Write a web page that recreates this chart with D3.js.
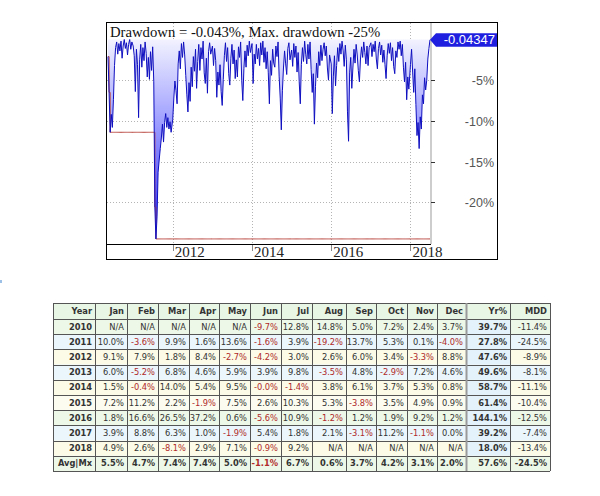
<!DOCTYPE html>
<html><head><meta charset="utf-8">
<script src="https://cdn.jsdelivr.net/npm/d3@7/dist/d3.min.js"></script>
<style>body{margin:0;background:#fff}svg{display:block}</style>
</head><body><svg id="c" width="600" height="496"></svg>
<script>
// ---- Drawdown series (%), one sample every 10 days, per calendar year ----
const seriesStarts = ["2010-05-14","2011-01-01","2012-01-01","2013-01-01","2014-01-01","2015-01-01","2016-01-01","2017-01-01","2018-01-01"];
const stepDays = 10;
const dd2010 = [-2.1,-6.5,-11.4,-9.2,-10.8,-7.4,-3.2,-1.0,-0.3,-1.8,-0.5,-1.4,-0.2,-2.3,-0.8,0,-1.1,-0.4,-1.9,-0.6,0,-1.2,-0.3];
const dd2011 = [-0.8,-2.0,-6.4,-1.2,-3.1,-9.6,-2.5,-0.6,-3.4,-1.0,-2.6,-0.3,-1.7,-4.6,-2.2,-4.9,-1.5,-3.8,-0.9,-5.2,-20.6,-24.5,-21.8,-16.3,-14.8,-13.4,-12.1,-10.4,-12.6,-10.2,-9.1,-10.8,-9.6,-11.0,-10.1,-11.4];
const dd2012 = [-9.8,-7.2,-5.1,-6.3,-7.9,-3.0,-1.4,-3.6,-0.5,-2.2,-0.3,-1.9,-4.4,-6.8,-8.9,-5.3,-7.6,-3.4,-5.8,-2.1,-3.9,-1.2,-6.0,-2.7,-0.6,-3.8,-1.0,-2.4,-0.2,-4.1,-5.4,-2.3,-6.6,-1.5,-0.4,-1.8];
const dd2013 = [-0.8,-3.2,-1.1,-2.6,-7.1,-4.0,-5.6,-3.1,-6.4,-8.1,-4.9,-2.0,-0.4,-2.7,-1.0,-4.2,-5.6,-2.3,-0.6,-3.0,-1.3,-4.8,-2.5,-4.6,-0.9,-2.2,-0.3,-5.0,-7.5,-3.6,-1.4,-3.4,-0.7,-2.0,-0.2,-1.6];
const dd2014 = [-0.5,-5.4,-1.8,-3.0,-0.6,-2.4,-1.1,-3.2,-0.4,-1.9,-0.2,-2.8,-1.0,-3.6,-1.5,-4.1,-7.9,-2.6,-4.4,-1.2,-2.9,-3.4,-0.8,-2.1,-0.3,-4.5,-7.2,-11.1,-6.3,-3.5,-1.4,-3.0,-4.3,-1.1,-0.4,-2.5];
const dd2015 = [-1.3,-3.3,-0.5,-2.2,-0.8,-4.0,-1.6,-5.2,-7.9,-3.1,-1.0,-2.7,-0.2,-1.8,-3.0,-0.6,-2.4,-0.3,-3.7,-6.5,-4.2,-10.4,-5.8,-2.9,-4.7,-1.5,-3.2,-0.7,-2.6,-1.2,-0.4,-2.0,-0.8,-3.5,-5.0,-1.9];
const dd2016 = [-3.0,-9.1,-4.5,-2.0,-5.7,-3.2,-1.0,-2.7,-0.5,-1.8,-0.2,-1.4,-3.3,-0.7,-2.5,-8.8,-12.5,-4.1,-2.2,-6.0,-3.5,-1.2,-2.9,-0.6,-1.9,-3.8,-5.2,-2.4,-0.9,-2.2,-0.3,-1.6,-3.0,-0.8,-3.2,-1.0];
const dd2017 = [-0.4,-2.1,-0.6,-1.5,-0.2,-2.4,-3.6,-1.1,-0.3,-1.9,-0.7,-2.8,-1.3,-3.1,-4.8,-2.0,-0.5,-1.7,-0.4,-2.6,-1.0,-3.3,-4.2,-1.4,-2.2,-0.3,-1.2,-0.2,-2.0,-0.6,-3.4,-5.2,-2.8,-7.4,-4.6,-6.1];
const dd2018 = [-3.1,-1.2,-4.0,-6.5,-3.6,-8.0,-11.8,-10.2,-13.4,-9.5,-11.0,-6.8,-7.9,-4.7,-6.2,-5.0,-2.4,-1.1,-0.043];
const ddSeries = [dd2010,dd2011,dd2012,dd2013,dd2014,dd2015,dd2016,dd2017,dd2018];

const yTicks = [-5,-10,-15,-20];
const xTickYears = [2012,2014,2016,2018];
const titleText = "Drawdown = -0.043%, Max. drawdown -25%";
const lastLabel = "-0.04347";

// ---- Monthly returns table ----
const tableHeader = ["Year","Jan","Feb","Mar","Apr","May","Jun","Jul","Aug","Sep","Oct","Nov","Dec","Yr%","MDD"];
const rowLabels = ["2010","2011","2012","2013","2014","2015","2016","2017","2018","Avg|Mx"];
const m2010 = [null,null,null,null,null,-9.7,12.8,14.8,5.0,7.2,2.4,3.7];
const m2011 = [10.0,-3.6,9.9,1.6,13.6,-1.6,3.9,-19.2,13.7,5.3,0.1,-4.0];
const m2012 = [9.1,7.9,1.8,8.4,-2.7,-4.2,3.0,2.6,6.0,3.4,-3.3,8.8];
const m2013 = [6.0,-5.2,6.8,4.6,5.9,3.9,9.8,-3.5,4.8,-2.9,7.2,4.6];
const m2014 = [1.5,-0.4,14.0,5.4,9.5,-0.0,-1.4,3.8,6.1,3.7,5.3,0.8];
const m2015 = [7.2,11.2,2.2,-1.9,7.5,2.6,10.3,5.3,-3.8,3.5,4.9,0.9];
const m2016 = [1.8,16.6,26.5,37.2,0.6,-5.6,10.9,-1.2,1.2,1.9,9.2,1.2];
const m2017 = [3.9,8.8,6.3,1.0,-1.9,5.4,1.8,2.1,-3.1,11.2,-1.1,0.0];
const m2018 = [4.9,2.6,-8.1,2.9,7.1,-0.9,9.2,null,null,null,null,null];
const mAvg  = [5.5,4.7,7.4,7.4,5.0,-1.1,6.7,0.6,3.7,4.2,3.1,2.0];
const monthly = [m2010,m2011,m2012,m2013,m2014,m2015,m2016,m2017,m2018,mAvg];
const yearPct = [39.7,27.8,47.6,49.6,58.7,61.4,144.1,39.2,18.0,57.6];
const mddPct  = [-11.4,-24.5,-8.9,-8.1,-11.1,-10.4,-12.5,-7.4,-13.4,-24.5];

// ================= drawing =================
const svg = d3.select("#c");
const parse = d3.utcParse("%Y-%m-%d");
const pts = [];
ddSeries.forEach((arr,k)=>{
  const s = parse(seriesStarts[k]);
  arr.forEach((v,i)=>pts.push({t:d3.utcDay.offset(s,i*stepDays), v}));
});
let runMin = 0;
const mdd = pts.map(p=>{runMin=Math.min(runMin,p.v);return {t:p.t,v:runMin};});

const x = d3.scaleUtc().domain(d3.extent(pts,d=>d.t)).range([108,430]);
const y = d3.scaleLinear().domain([0,-25]).range([39.5,243]);

const defs = svg.append("defs");
const grad = defs.append("linearGradient").attr("id","ddg").attr("gradientUnits","userSpaceOnUse")
  .attr("x1",0).attr("x2",0).attr("y1",y(0)).attr("y2",y(-25));
grad.append("stop").attr("offset",0).attr("stop-color","#f2f2ff");
grad.append("stop").attr("offset",1).attr("stop-color","#2323ff");
defs.append("clipPath").attr("id","pc").append("rect").attr("x",107).attr("y",23).attr("width",324).attr("height",221);

// frame
svg.append("rect").attr("x",106.5).attr("y",22.5).attr("width",391).attr("height",237)
  .attr("fill","#fff").attr("stroke","#000");

// grid
const g = svg.append("g");
g.selectAll(".hg").data(yTicks).join("line")
  .attr("x1",107).attr("x2",431).attr("y1",d=>Math.round(y(d))+0.5).attr("y2",d=>Math.round(y(d))+0.5)
  .attr("stroke","#b4b4b4").attr("stroke-dasharray","1,2");
const xt = xTickYears.map(yr=>new Date(Date.UTC(yr,0,1)));
g.selectAll(".vg").data(xt).join("line")
  .attr("x1",d=>Math.round(x(d))+0.5).attr("x2",d=>Math.round(x(d))+0.5).attr("y1",23).attr("y2",244)
  .attr("stroke","#b4b4b4").attr("stroke-dasharray","1,2");

// series
const plot = svg.append("g").attr("clip-path","url(#pc)");
plot.append("path").datum(pts)
  .attr("d",d3.area().x(d=>x(d.t)).y0(y(0)).y1(d=>y(d.v)))
  .attr("fill","url(#ddg)");
plot.append("path").datum(mdd)
  .attr("d",d3.line().x(d=>x(d.t)).y(d=>y(d.v)).curve(d3.curveStepAfter))
  .attr("fill","none").attr("stroke","#b8453e").attr("stroke-width",1);
plot.append("path").datum(pts)
  .attr("d",d3.line().x(d=>x(d.t)).y(d=>y(d.v)))
  .attr("fill","none").attr("stroke","#0f0fc0").attr("stroke-width",1);

// right axis separator & ticks
svg.append("line").attr("x1",431).attr("x2",431).attr("y1",23).attr("y2",244).attr("stroke","#bdbdbd").attr("stroke-width",1.5);
svg.selectAll(".yt").data(yTicks).join("line")
  .attr("x1",431).attr("x2",435).attr("y1",d=>Math.round(y(d))+0.5).attr("y2",d=>Math.round(y(d))+0.5).attr("stroke","#333");
svg.selectAll(".yl").data(yTicks).join("text")
  .attr("x",494).attr("y",d=>y(d)+5).attr("text-anchor","end")
  .attr("font-family","Liberation Sans, Arial, sans-serif").attr("font-size",12.5).attr("fill","#555")
  .text(d=>d+"%");

// x axis
svg.append("line").attr("x1",106).attr("x2",431).attr("y1",244.5).attr("y2",244.5).attr("stroke","#000");
svg.selectAll(".xtk").data(xt).join("line")
  .attr("x1",d=>Math.round(x(d))+0.5).attr("x2",d=>Math.round(x(d))+0.5).attr("y1",245).attr("y2",251).attr("stroke","#888");
svg.selectAll(".xl").data(xt).join("text")
  .attr("x",d=>x(d)+2).attr("y",256.5)
  .attr("font-family","Liberation Serif, Times New Roman, serif").attr("font-size",15).attr("fill","#222")
  .text(d=>d.getUTCFullYear());

// title
svg.append("text").attr("x",110).attr("y",36.5)
  .attr("font-family","Liberation Serif, Times New Roman, serif").attr("font-size",14.7).attr("fill","#111")
  .text(titleText);

// last value marker
const ly = y(pts[pts.length-1].v);
svg.append("path").attr("d",`M430,${ly} L436,${ly-6.5} L497,${ly-6.5} L497,${ly+7} L436,${ly+7} Z`).attr("fill","#1f1fe0");
svg.append("text").attr("x",495).attr("y",ly+4.5).attr("text-anchor","end")
  .attr("font-family","Liberation Sans, Arial, sans-serif").attr("font-size",13).attr("fill","#fff").text(lastLabel);

// small stray mark at left
svg.append("rect").attr("x",0).attr("y",280).attr("width",2).attr("height",3).attr("fill","#9cc0e6");

// ---- table ----
const colW = [42,32,31,31,30,31,31,31,34,30,31,30,29,44,40];
const tblX = 53, tblY = 303, headH = 16, rowH = 15.2;
const colX = [tblX]; colW.forEach(w=>colX.push(colX[colX.length-1]+w));
const rowFills = ["#eef8e8","#eaf6fb","#fbfbe7","#eaf6fb","#fbfbe7","#fcfcf0","#eef8e8","#eaf6fb","#fbfbe7","#eef8e8"];
const headFill = "#e8f6e6", yrFill = "#e3f2fb";
const fmt = v => v===null ? "N/A" : ((v<0||Object.is(v,-0))?"-":"")+Math.abs(v).toFixed(1)+"%";
const tg = svg.append("g").attr("font-family","Verdana, DejaVu Sans, sans-serif").attr("font-size",8.3);

// header
tableHeader.forEach((h,c)=>{
  tg.append("rect").attr("x",colX[c]).attr("y",tblY).attr("width",colW[c]).attr("height",headH).attr("fill",headFill);
  tg.append("text").attr("x",colX[c+1]-3).attr("y",tblY+headH/2+3).attr("text-anchor","end")
    .attr("font-weight","bold").attr("fill","#333").text(h);
});
rowLabels.forEach((lab,r)=>{
  const ry = tblY+headH+r*rowH;
  const isAvg = r===rowLabels.length-1;
  const cells = [{t:lab,neg:false,b:true}]
    .concat(monthly[r].map(v=>({t:fmt(v),neg:v!==null&&(v<0||Object.is(v,-0)),b:isAvg})))
    .concat([{t:fmt(yearPct[r]),neg:false,b:true},{t:fmt(mddPct[r]),neg:false,b:isAvg}]);
  cells.forEach((cell,c)=>{
    tg.append("rect").attr("x",colX[c]).attr("y",ry).attr("width",colW[c]).attr("height",rowH)
      .attr("fill", c===13 && !isAvg ? yrFill : rowFills[r]);
    tg.append("text").attr("x",colX[c+1]-3).attr("y",ry+rowH/2+3).attr("text-anchor","end")
      .attr("font-weight",cell.b?"bold":"normal").attr("fill",cell.neg?"#b02a2a":"#333").text(cell.t);
  });
});
const tblBottom = tblY+headH+rowLabels.length*rowH;
const hl = [tblY, tblY+headH].concat(rowLabels.map((_,r)=>tblY+headH+(r+1)*rowH));
tg.selectAll(".th").data(hl).join("line").attr("x1",tblX).attr("x2",colX[colX.length-1])
  .attr("y1",d=>Math.round(d)+0.5).attr("y2",d=>Math.round(d)+0.5).attr("stroke","#555");
tg.selectAll(".tv").data(colX).join("line").attr("x1",d=>Math.round(d)+0.5).attr("x2",d=>Math.round(d)+0.5)
  .attr("y1",tblY).attr("y2",tblBottom).attr("stroke",(d,i)=>i===13?"#9a9a9a":"#555").attr("stroke-width",(d,i)=>i===13?2:1);
</script></body></html>
